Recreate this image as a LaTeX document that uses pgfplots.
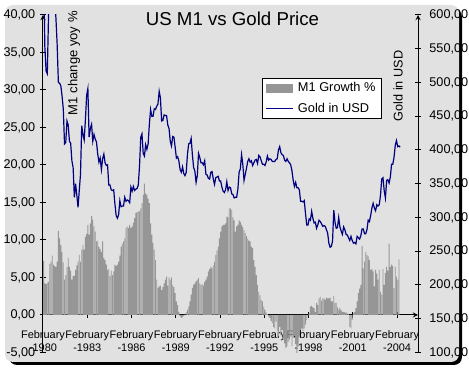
\documentclass[border=0pt]{standalone}
\usepackage{fontspec}
\setmainfont{Liberation Sans}
\usepackage{pgfplots}
\usepackage{pgfplotstable}
\pgfplotsset{compat=1.18}
\definecolor{bg}{RGB}{225,225,225}
\definecolor{bargray}{RGB}{150,150,150}
\definecolor{navyline}{RGB}{0,0,128}

% M1 growth yoy %, monthly from February 1980
\pgfplotstableread[row sep=\\]{
v\\
7.2\\ 4.2\\ 4.1\\ 4.3\\ 4.4\\ 6.8\\ 7.1\\ 7.9\\ 6.7\\ 6.5\\ 6.4\\ 7.1\\
11.2\\ 10.2\\ 9.3\\ 8.4\\ 7.0\\ 4.7\\ 5.3\\ 6.4\\ 7.6\\ 6.4\\ 5.9\\ 4.7\\
5.2\\ 5.2\\ 6.0\\ 6.6\\ 7.1\\ 8.0\\ 7.1\\ 8.7\\ 9.3\\ 8.7\\ 10.4\\ 10.8\\
12.0\\ 10.7\\ 12.2\\ 13.2\\ 12.7\\ 11.8\\ 11.1\\ 9.8\\ 9.9\\ 9.1\\ 8.8\\ 8.4\\
9.8\\ 7.6\\ 7.3\\ 6.7\\ 6.0\\ 6.1\\ 5.2\\ 5.9\\ 5.3\\ 5.8\\ 6.7\\ 6.5\\
6.7\\ 7.1\\ 7.9\\ 9.1\\ 9.5\\ 9.8\\ 10.2\\ 11.6\\ 11.8\\ 11.6\\ 12.0\\ 11.6\\
11.8\\ 12.3\\ 12.9\\ 13.6\\ 13.7\\ 13.8\\ 13.8\\ 14.2\\ 14.9\\ 16.0\\ 17.5\\ 16.2\\
16.0\\ 15.5\\ 14.9\\ 12.2\\ 10.7\\ 9.6\\ 8.7\\ 7.3\\ 4.7\\ 3.6\\ 3.8\\ 3.9\\
3.3\\ 3.7\\ 4.2\\ 4.7\\ 5.1\\ 3.9\\ 5.0\\ 4.7\\ 5.0\\ 4.0\\ 3.7\\ 2.9\\
1.8\\ 1.3\\ 0.4\\ -0.2\\ -0.4\\ -0.3\\ -0.2\\ 0.05\\ 0.4\\ 0.7\\ 1.1\\ 1.8\\
2.7\\ 3.6\\ 4.0\\ 4.2\\ 4.5\\ 4.7\\ 4.9\\ 4.2\\ 4.0\\ 4.1\\ 3.9\\ 4.4\\
4.7\\ 5.1\\ 5.8\\ 6.1\\ 6.4\\ 6.2\\ 6.6\\ 7.1\\ 8.0\\ 8.6\\ 9.1\\ 10.2\\
11.1\\ 11.8\\ 12.0\\ 12.0\\ 12.2\\ 13.1\\ 13.0\\ 14.2\\ 14.2\\ 14.0\\ 13.0\\ 12.6\\
11.1\\ 11.8\\ 12.0\\ 12.6\\ 12.4\\ 12.0\\ 11.7\\ 11.3\\ 10.9\\ 10.5\\ 10.2\\ 9.9\\
9.8\\ 9.1\\ 8.9\\ 7.3\\ 6.4\\ 5.3\\ 4.0\\ 3.1\\ 2.6\\ 2.0\\ 1.8\\ 1.1\\
0.7\\ 0.3\\ 0.1\\ -0.2\\ -0.4\\ -0.8\\ -1.1\\ -1.6\\ -1.8\\ -0.9\\ -2.2\\ -2.8\\
-1.6\\ -2.7\\ -2.0\\ -3.3\\ -3.8\\ -4.4\\ -4.2\\ -3.6\\ -3.3\\ -2.9\\ -4.2\\ -3.1\\
-2.8\\ -3.9\\ -5.2\\ -4.2\\ -2.9\\ -2.0\\ -1.8\\ -2.2\\ -1.8\\ -1.3\\ -0.7\\ -0.2\\
0.2\\ 1.1\\ 1.2\\ 1.0\\ 0.9\\ 0.4\\ 1.6\\ 1.3\\ 2.2\\ 2.4\\ 1.9\\ 2.2\\
2.2\\ 2.0\\ 2.3\\ 2.2\\ 2.2\\ 2.3\\ 1.8\\ 1.8\\ 2.5\\ 1.6\\ 1.6\\ 1.0\\
0.7\\ 0.9\\ 0.6\\ 0.4\\ 0.4\\ 0.35\\ 0.3\\ 0.2\\ 0.1\\ -1.6\\ -1.8\\ -0.7\\
0.2\\ 0.4\\ 0.9\\ 1.8\\ 2.9\\ 3.5\\ 4.0\\ 9.2\\ 6.2\\ 7.1\\ 8.4\\ 8.0\\
7.8\\ 7.3\\ 6.0\\ 6.1\\ 5.8\\ 3.8\\ 6.0\\ 5.5\\ 4.7\\ 6.0\\ 3.1\\ 2.7\\
6.1\\ 4.0\\ 5.6\\ 6.4\\ 5.9\\ 9.5\\ 6.4\\ 6.7\\ 6.5\\ 3.6\\ 6.4\\ 5.1\\
4.7\\ 7.4\\
}\mone

% Gold in USD, monthly from February 1980
\pgfplotstableread[row sep=\\]{
g\\
665\\ 553\\ 517\\ 513\\ 600\\ 644\\ 627\\ 674\\ 662\\ 623\\ 596\\
557\\ 500\\ 499\\ 495\\ 480\\ 461\\ 409\\ 411\\ 443\\ 437\\ 413\\ 410\\
384\\ 374\\ 330\\ 350\\ 333\\ 315\\ 340\\ 364\\ 436\\ 423\\ 415\\ 445\\
481\\ 491\\ 419\\ 432\\ 438\\ 413\\ 423\\ 416\\ 412\\ 394\\ 382\\ 388\\
371\\ 387\\ 394\\ 381\\ 377\\ 378\\ 348\\ 348\\ 341\\ 340\\ 341\\ 320\\
303\\ 299\\ 304\\ 325\\ 316\\ 317\\ 317\\ 330\\ 324\\ 326\\ 325\\ 322\\
345\\ 339\\ 346\\ 340\\ 342\\ 343\\ 348\\ 376\\ 419\\ 424\\ 395\\ 391\\
408\\ 401\\ 409\\ 438\\ 460\\ 450\\ 450\\ 461\\ 460\\ 465\\ 468\\ 487\\
477\\ 443\\ 444\\ 452\\ 451\\ 451\\ 437\\ 432\\ 413\\ 406\\ 420\\ 419\\
404\\ 388\\ 390\\ 384\\ 371\\ 367\\ 375\\ 365\\ 362\\ 367\\ 394\\ 409\\
410\\ 417\\ 393\\ 374\\ 369\\ 352\\ 362\\ 395\\ 389\\ 381\\ 381\\ 378\\
384\\ 364\\ 363\\ 358\\ 357\\ 367\\ 368\\ 357\\ 349\\ 359\\ 360\\ 361\\
354\\ 354\\ 345\\ 339\\ 337\\ 341\\ 353\\ 340\\ 345\\ 344\\ 335\\ 334\\
329\\ 330\\ 330\\ 342\\ 367\\ 372\\ 393\\ 379\\ 355\\ 364\\ 373\\ 383\\
387\\ 382\\ 384\\ 377\\ 381\\ 385\\ 386\\ 380\\ 392\\ 390\\ 384\\ 379\\
379\\ 377\\ 382\\ 391\\ 385\\ 387\\ 386\\ 383\\ 383\\ 383\\ 386\\ 387\\
400\\ 405\\ 396\\ 393\\ 392\\ 385\\ 383\\ 387\\ 383\\ 381\\ 378\\ 369\\
355\\ 346\\ 352\\ 344\\ 344\\ 341\\ 324\\ 324\\ 323\\ 325\\ 306\\ 289\\
289\\ 298\\ 296\\ 309\\ 299\\ 292\\ 293\\ 284\\ 289\\ 296\\ 294\\ 291\\
287\\ 288\\ 287\\ 282\\ 277\\ 262\\ 256\\ 257\\ 265\\ 311\\ 293\\ 284\\
285\\ 300\\ 286\\ 280\\ 275\\ 286\\ 282\\ 275\\ 274\\ 270\\ 266\\ 272\\
266\\ 262\\ 263\\ 261\\ 272\\ 270\\ 268\\ 273\\ 283\\ 283\\ 276\\ 276\\
282\\ 296\\ 294\\ 303\\ 314\\ 321\\ 314\\ 310\\ 319\\ 317\\ 319\\ 333\\
357\\ 359\\ 340\\ 329\\ 355\\ 356\\ 351\\ 360\\ 379\\ 379\\ 389\\ 407\\
414\\ 405\\ 406\\ 404\\
}\gold

\pgfplotsset{
  common/.style={
    at={(32.25pt,13.125pt)}, anchor=south west,
    scale only axis, width=281.25pt, height=253.125pt,
    xmin=0, xmax=305, enlargelimits=false,
    axis line style={-, black, line width=0.75pt},
    tick style={black, line width=0.75pt},
    major tick length=4.5pt, tick align=center,
    hide obscured x ticks=false, hide obscured y ticks=false,
    yticklabel style={font=\fontsize{9.5}{11}\selectfont,
      /pgf/number format/fixed, /pgf/number format/fixed zerofill,
      /pgf/number format/precision=2, /pgf/number format/use comma,
      /pgf/number format/assume math mode=true},
  },
}

\begin{document}
\begin{tikzpicture}
\path[use as bounding box] (0pt,0pt) rectangle (351.75pt,277.5pt);
\fill[black, rounded corners=6pt] (6.75pt,3.75pt) rectangle (346.5pt,270.75pt);
\fill[bg, rounded corners=6pt] (3.75pt,6pt) rectangle (344.25pt,273.75pt);

\begin{axis}[common,
  ymin=-5, ymax=40,
  axis x line=middle, axis y line=left,
  ytick={-5,0,...,40},
  xtick={0,36,72,108,144,180,216,252,288},
  xticklabels={{February\\-1980},{February\\-1983},{February\\-1986},{February\\-1989},{February\\-1992},{February\\-1995},{February\\-1998},{February\\-2001},{February\\-2004}},
  xticklabel style={font=\fontsize{8.2}{10}\selectfont, align=center, anchor=north, yshift=-6pt},
  title={US M1 vs Gold Price},
  title style={at={(rel axis cs:0.5053,0.9458)}, anchor=base, font=\fontsize{14}{16}\selectfont},
  ylabel={M1 change yoy \%},
  ylabel style={at={(rel axis cs:0.0827,1.012)}, anchor=east, inner sep=0pt, font=\fontsize{9.8}{11}\selectfont},
]
\addplot[ybar, bar width=0.72, fill=bargray, draw=none, forget plot]
  table[x expr=\coordindex+0.5, y=v] {\mone};
\end{axis}

\begin{axis}[common,
  ymin=100, ymax=600,
  axis x line=none, axis y line=right,
  ytick={100,150,...,600},
  yticklabel style={xshift=2.8pt},
  ylabel={Gold in USD},
  ylabel style={at={(rel axis cs:0.9467,0.7896)}, anchor=center, inner sep=0pt, font=\fontsize{9.5}{11}\selectfont},
  legend cell align=left,
  legend style={at={(rel axis cs:0.5848,0.8124)}, anchor=north west,
    draw=black, fill=white, line width=0.6pt, inner xsep=2.2pt, inner ysep=1pt,
    row sep=3pt, font=\fontsize{9.6}{11.5}\selectfont,
    /tikz/every odd column/.append style={column sep=1.5pt}},
]
\addlegendimage{legend image code/.code={\fill[bargray] (0pt,-2.85pt) rectangle (20pt,2.85pt);}}
\addlegendentry{M1 Growth \%}
\addplot[navyline, line width=0.9pt,
  legend image code/.code={\draw[navyline, line width=0.75pt] (0pt,0pt) -- (20pt,0pt);}]
  table[x expr=\coordindex+0.5, y=g] {\gold};
\addlegendentry{Gold in USD}
\end{axis}
\end{tikzpicture}
\end{document}
